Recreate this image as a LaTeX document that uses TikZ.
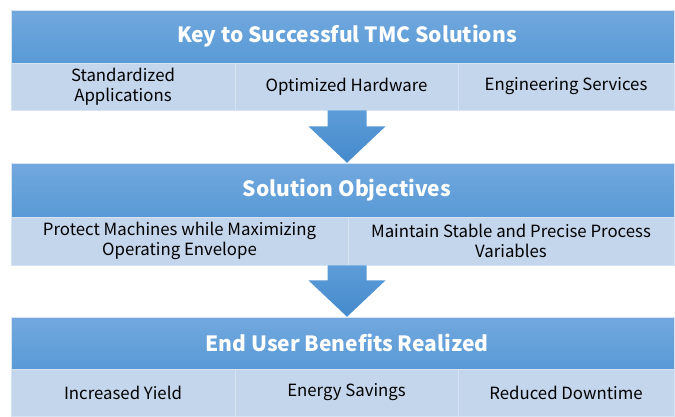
\documentclass[tikz,border=0pt]{standalone}
\usepackage{fontspec}
\setmainfont{Noto Sans CJK SC}
\usetikzlibrary{positioning, calc}

\definecolor{hdrtop}{RGB}{114,168,222}
\definecolor{hdrbot}{RGB}{88,154,214}
\definecolor{cellfill}{RGB}{196,214,236}
\definecolor{cellline}{RGB}{214,227,242}
\definecolor{arrtop}{RGB}{92,156,216}
\definecolor{arrbot}{RGB}{70,138,204}

\begin{document}
\begin{tikzpicture}[x=1pt, y=-1pt,
hdr/.style={rectangle, top color=hdrtop, bottom color=hdrbot, draw=cellline, line width=0.5pt, minimum width=663pt, text=white, font=\fontsize{21}{25}\selectfont\bfseries, execute at begin node={\hspace*{9pt}}},
cell/.style={rectangle, fill=cellfill, draw=cellline, line width=0.8pt, align=center, font=\fontsize{16.8}{20.5}\selectfont},
blockarrow/.style={top color=arrtop, bottom color=arrbot, draw=none},
]
\useasboundingbox (0,0) rectangle (675,416);
%headers
\node[hdr, minimum height=53pt](keyhdr) at (342.5,36.5) {Key to Successful TMC Solutions};
\node[hdr, minimum height=54pt](objhdr) at (342.5,190) {Solution Objectives};
\node[hdr, minimum height=52pt](benhdr) at (342.5,343) {End User Benefits Realized};
%cells
\node[cell, minimum width=224pt, minimum height=47pt](std) at (123,86.5) {Standardized\\Applications};
\node[cell, minimum width=223pt, minimum height=47pt](hw) at (346.5,86.5) {Optimized Hardware};
\node[cell, minimum width=216pt, minimum height=47pt](eng) at (566,86.5) {Engineering Services};
\node[cell, minimum width=337pt, minimum height=48pt](prot) at (179.5,241) {Protect Machines while Maximizing\\Operating Envelope};
\node[cell, minimum width=326pt, minimum height=48pt](maint) at (511,241) {Maintain Stable and Precise Process\\Variables};
\node[cell, minimum width=224pt, minimum height=47pt](yield) at (123,392.5) {Increased Yield};
\node[cell, minimum width=223pt, minimum height=47pt](energy) at (346.5,392.5) {Energy Savings};
\node[cell, minimum width=216pt, minimum height=47pt](downtime) at (566,392.5) {Reduced Downtime};
%arrows
\coordinate (mid) at (347,0);
\coordinate (a1) at (hw.south -| mid);
\coordinate (a2) at (prot.south -| mid);
\path[blockarrow] ($(a1)+(-19.5,0)$) -- ($(a1)+(-19.5,16)$) -- ($(a1)+(-38.5,16)$) -- (objhdr.north -| mid)
  -- ($(a1)+(38.5,16)$) -- ($(a1)+(19.5,16)$) -- ($(a1)+(19.5,0)$) -- cycle;
\path[blockarrow] ($(a2)+(-19.5,0)$) -- ($(a2)+(-19.5,15)$) -- ($(a2)+(-38.5,15)$) -- (benhdr.north -| mid)
  -- ($(a2)+(38.5,15)$) -- ($(a2)+(19.5,15)$) -- ($(a2)+(19.5,0)$) -- cycle;
\end{tikzpicture}
\end{document}
